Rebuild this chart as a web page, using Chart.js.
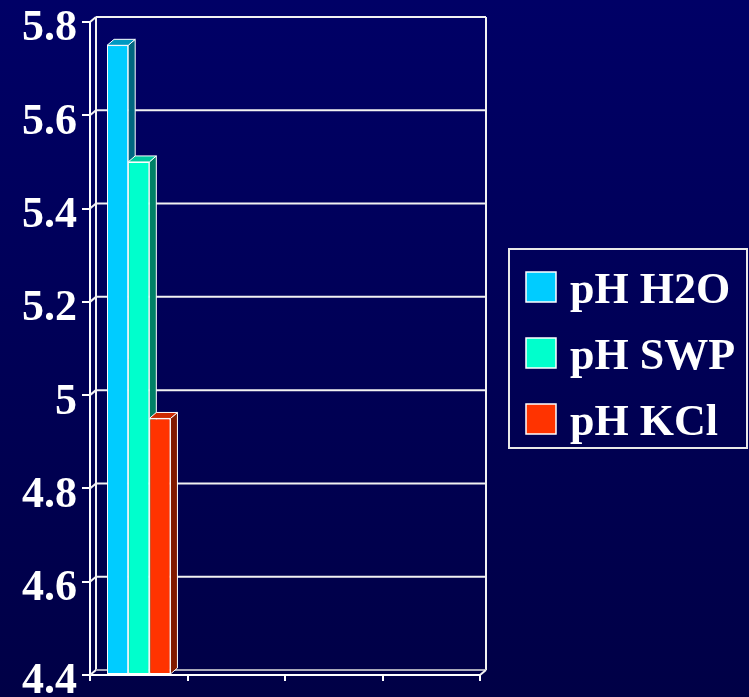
<!DOCTYPE html>
<html>
<head>
<meta charset="utf-8">
<script src="https://cdn.jsdelivr.net/npm/chart.js@4/dist/chart.umd.min.js"></script>
<style>
  html, body { margin: 0; padding: 0; width: 749px; height: 697px; overflow: hidden;
    background: linear-gradient(#000066, #000046); }
  #wrap { position: relative; width: 749px; height: 697px; }
</style>
</head>
<body>
<div id="wrap"><canvas id="chart"></canvas></div>
<script>
// Soil pH readings (first group only; remaining groups are empty)
const categories = ['', '', '', ''];
const seriesNames = ['pH H2O', 'pH SWP', 'pH KCl'];
const phH2O = [5.75, null, null, null];
const phSWP = [5.5, null, null, null];
const phKCl = [4.95, null, null, null];
const yTickValues = [4.4, 4.6, 4.8, 5, 5.2, 5.4, 5.6, 5.8];
const yTickLabels = ['4.4', '4.6', '4.8', '5', '5.2', '5.4', '5.6', '5.8'];

// Face colours: front, top, side
const frontColors = ['#00CCFF', '#00FFCC', '#FF3300'];
const topColors = ['#0099C2', '#00C9A1', '#CC2900'];
const sideColors = ['#006680', '#008066', '#801A00'];

const serif = '"Liberation Serif", "Times New Roman", Times, serif';

function seg(ctx, x1, y1, x2, y2) {
  ctx.beginPath(); ctx.moveTo(x1, y1); ctx.lineTo(x2, y2); ctx.stroke();
}
function poly(ctx, pts, fill) {
  ctx.beginPath();
  ctx.moveTo(pts[0][0], pts[0][1]);
  for (let i = 1; i < pts.length; i++) ctx.lineTo(pts[i][0], pts[i][1]);
  ctx.closePath();
  ctx.fillStyle = fill; ctx.fill();
  ctx.stroke();
}

// Back wall, floor and the slanted links from the front axis
const wallPlugin = {
  id: 'wall3d',
  beforeDatasetsDraw(chart, args, opts) {
    const { ctx, chartArea: a, scales: { y } } = chart;
    const dx = opts.dx, dy = opts.dy;
    ctx.save();
    ctx.lineWidth = 2;
    ctx.strokeStyle = '#F2F2F2';
    y.ticks.forEach(t => {
      const py = y.getPixelForValue(t.value);
      if (t.value > y.min) seg(ctx, a.left + dx, py + dy, a.right + dx, py + dy);
      seg(ctx, a.left, py, a.left + dx, py + dy);
    });
    seg(ctx, a.left + dx, a.top + dy, a.left + dx, a.bottom + dy);
    seg(ctx, a.right + dx, a.top + dy, a.right + dx, a.bottom + dy);
    ctx.strokeStyle = '#A8A8B8';
    seg(ctx, a.left + dx, a.bottom + dy, a.right + dx, a.bottom + dy);
    ctx.strokeStyle = '#F2F2F2';
    seg(ctx, a.right, a.bottom, a.right + dx, a.bottom + dy);
    ctx.restore();
  }
};

// Top and side faces of each column, painted left to right
const barDepthPlugin = {
  id: 'barDepth',
  afterDatasetsDraw(chart, args, opts) {
    const ctx = chart.ctx;
    const dx = opts.dx, dy = opts.dy;
    ctx.save();
    ctx.strokeStyle = '#FFFFFF';
    ctx.lineWidth = 1;
    ctx.lineJoin = 'round';
    chart.data.datasets.forEach((ds, i) => {
      const meta = chart.getDatasetMeta(i);
      meta.data.forEach((bar, j) => {
        if (ds.data[j] == null) return;
        const { x, y, base, width } = bar.getProps(['x', 'y', 'base', 'width'], true);
        const l = x - width / 2, r = x + width / 2;
        poly(ctx, [[r, y], [r + dx, y + dy], [r + dx, base + dy], [r, base]], sideColors[i]);
        poly(ctx, [[l, y], [l + dx, y + dy], [r + dx, y + dy], [r, y]], topColors[i]);
        bar.draw(ctx, chart.chartArea);
      });
    });
    ctx.restore();
  }
};

// Boxed legend on the right
const boxLegendPlugin = {
  id: 'boxLegend',
  afterDraw(chart, args, o) {
    const ctx = chart.ctx;
    ctx.save();
    ctx.strokeStyle = '#E8E8E8';
    ctx.lineWidth = 2;
    ctx.strokeRect(o.left, o.top, o.width, o.height);
    ctx.font = 'bold ' + o.fontSize + 'px ' + serif;
    ctx.textBaseline = 'alphabetic';
    ctx.textAlign = 'left';
    chart.data.datasets.forEach((ds, i) => {
      const top = o.boxTop + i * o.rowGap;
      ctx.fillStyle = ds.backgroundColor;
      ctx.fillRect(o.boxX, top, o.box, o.box);
      ctx.lineWidth = 1.5;
      ctx.strokeStyle = '#FFFFFF';
      ctx.strokeRect(o.boxX, top, o.box, o.box);
      ctx.fillStyle = '#FFFFFF';
      ctx.fillText(ds.label, o.textX, o.baseline + i * o.rowGap);
    });
    ctx.restore();
  }
};

const seriesValues = [phH2O, phSWP, phKCl];
const axisMin = yTickValues[0];
const axisMax = yTickValues[yTickValues.length - 1];

new Chart(document.getElementById('chart'), {
  type: 'bar',
  data: {
    labels: categories,
    datasets: seriesValues.map((vals, i) => ({
      label: seriesNames[i],
      data: vals,
      base: axisMin,
      backgroundColor: frontColors[i],
      borderColor: '#FFFFFF',
      borderWidth: 1,
      borderSkipped: false,
      categoryPercentage: 0.65,
      barPercentage: 1
    }))
  },
  options: {
    responsive: true,
    maintainAspectRatio: false,
    animation: false,
    events: [],
    layout: { padding: { top: 22, right: 269, bottom: 0, left: 0 } },
    scales: {
      x: {
        type: 'category',
        offset: true,
        grid: { offset: true, drawOnChartArea: false, drawTicks: true, tickLength: 6, color: '#FFFFFF', lineWidth: 2 },
        border: { display: true, color: '#FFFFFF', width: 2 },
        ticks: { display: false },
        afterFit(s) { s.height = 22; s.paddingLeft = 0; s.paddingRight = 0; }
      },
      y: {
        min: axisMin,
        max: axisMax,
        afterBuildTicks(s) { s.ticks = yTickValues.map(v => ({ value: v })); },
        grid: { drawOnChartArea: false, drawTicks: true, tickLength: 8, color: '#FFFFFF', lineWidth: 2 },
        border: { display: true, color: '#FFFFFF', width: 2 },
        ticks: {
          color: '#FFFFFF',
          padding: 5,
          labelOffset: 7,
          font: { family: serif, size: 44, weight: 'bold', lineHeight: 1 },
          callback: (v, i) => yTickLabels[i]
        },
        afterFit(s) { s.width = 90; s.paddingTop = 0; s.paddingBottom = 0; }
      }
    },
    plugins: {
      legend: { display: false },
      tooltip: { enabled: false },
      wall3d: { dx: 6, dy: -5 },
      barDepth: { dx: 7, dy: -6 },
      boxLegend: { left: 509, top: 249, width: 238, height: 199, boxX: 526, boxTop: 272, box: 30,
                   rowGap: 66, textX: 570, baseline: 303, fontSize: 44 }
    }
  },
  plugins: [wallPlugin, barDepthPlugin, boxLegendPlugin]
});
</script>
</body>
</html>
